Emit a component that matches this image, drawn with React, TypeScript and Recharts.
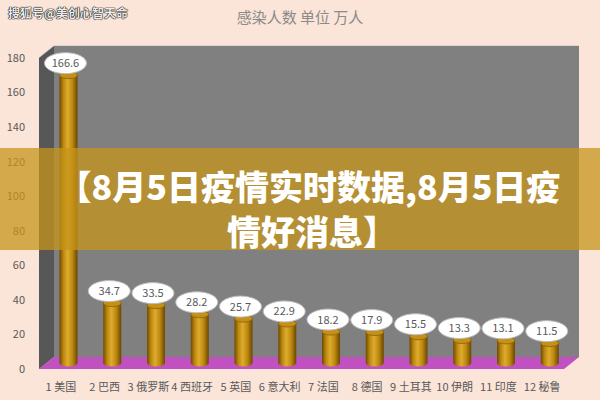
import React from 'react';
import {
  BarChart,
  Bar,
  XAxis,
  YAxis,
  CartesianGrid,
  LabelList,
  usePlotArea
} from 'recharts';

// 感染人数（万人），8月5日
const countries = ['1 美国', '2 巴西', '3 俄罗斯', '4 西班牙', '5 英国', '6 意大利', '7 法国', '8 德国', '9 土耳其', '10 伊朗', '11 印度', '12 秘鲁'];
const infected = [166.6, 34.7, 33.5, 28.2, 25.7, 22.9, 18.2, 17.9, 15.5, 13.3, 13.1, 11.5];
const yTicks = [0, 20, 40, 60, 80, 100, 120, 140, 160, 180];

const data = countries.map((name, i) => ({ name, value: infected[i] }));

const FONT = "'Noto Sans CJK SC', 'Noto Sans', sans-serif";
const DX = 15;   // depth of the 3d box
const DY = -12;

// left wall, back wall and floor of the fake 3d box
const Walls = () => {
  const area = usePlotArea();
  if (!area) return null;
  const { x, y, width, height } = area;
  const b = y + height;
  const r = x + width;
  return (
    <g>
      <polygon points={`${x},${y} ${x + DX},${y + DY} ${x + DX},${b + DY} ${x},${b}`} fill="#575757" />
      <rect x={x + DX} y={y + DY} width={width} height={height} fill="#808080" />
      <polygon points={`${x},${b} ${x + DX},${b + DY} ${r + DX},${b + DY} ${r},${b}`} fill="#c150c0" />
    </g>
  );
};

const gridLine = (p: any) => {
  const { x1, y1, x2, key } = p;
  return (
    <g key={key}>
      <line x1={x1} y1={y1} x2={x1 + DX} y2={y1 + DY} stroke="#d0d0d0" strokeWidth={1.5} />
      <line x1={x1 + DX} y1={y1 + DY} x2={x2 + DX} y2={y1 + DY} stroke="#d0d0d0" strokeWidth={1.5} />
    </g>
  );
};

const Cylinder = (p: any) => {
  const x = Number(p.x) + DX / 2;
  const w = Number(p.width);
  const top = Number(p.y) + DY / 2;
  const bottom = top + Number(p.height);
  const cx = x + w / 2;
  return (
    <g>
      <ellipse cx={cx} cy={bottom} rx={w / 2} ry={3.5} fill="url(#gold)" />
      <rect x={x} y={top} width={w} height={bottom - top} fill="url(#gold)" />
      <ellipse cx={cx} cy={top} rx={w / 2} ry={3.5} fill="#c4901a" stroke="#8c6204" strokeWidth={0.8} />
    </g>
  );
};

const Bubble = (p: any) => {
  const cx = Number(p.x) + Number(p.width) / 2 + DX / 2 - 3;
  const cy = Number(p.y) + DY / 2 - 12;
  return (
    <g>
      <ellipse cx={cx} cy={cy} rx={21} ry={10.5} fill="#ffffff" stroke="#bdbdbd" strokeWidth={1} />
      <text x={cx} y={cy} dy="0.36em" textAnchor="middle" fontSize={11} fill="#595959" fontFamily={FONT}>
        {p.value}
      </text>
    </g>
  );
};

export default function App() {
  return (
    <div style={{ position: 'absolute', left: 0, top: 0, width: 600, height: 400, background: '#fbe4d8', overflow: 'hidden', fontFamily: FONT }}>
      <div style={{ position: 'absolute', left: 0, top: 6, width: 600, textAlign: 'center', fontSize: 15, color: '#8a8a8a' }}>
        感染人数 单位 万人
      </div>
      <div style={{ position: 'absolute', left: 8, top: 4, fontSize: 12, fontWeight: 'bold', color: '#eeeeee', textShadow: '0 0 1px #000, 0 0 1px #000, 0 0 1px #000' }}>
        搜狐号@美创心智天命
      </div>
      <BarChart width={600} height={400} data={data} margin={{ top: 58, right: 36, left: 0, bottom: 1 }}>
        <defs>
          <linearGradient id="gold" x1="0" y1="0" x2="1" y2="0">
            <stop offset="0%" stopColor="#6e4a00" />
            <stop offset="22%" stopColor="#bc880f" />
            <stop offset="45%" stopColor="#deac2e" />
            <stop offset="72%" stopColor="#bc880f" />
            <stop offset="100%" stopColor="#6a4600" />
          </linearGradient>
        </defs>
        <Walls />
        <CartesianGrid vertical={false} horizontal={gridLine} />
        <XAxis
          dataKey="name"
          axisLine={false}
          tickLine={false}
          height={30}
          tickMargin={8}
          interval={0}
          tick={{ fontSize: 11, fill: '#595959', fontFamily: FONT }}
        />
        <YAxis
          domain={[0, 180]}
          ticks={yTicks}
          width={39}
          axisLine={false}
          tickLine={false}
          tickMargin={8}
          tick={{ fontSize: 11, fill: '#595959', fontFamily: FONT }}
        />
        <Bar dataKey="value" barSize={18} shape={Cylinder} isAnimationActive={false}>
          <LabelList dataKey="value" content={Bubble} />
        </Bar>
      </BarChart>
      <div style={{ position: 'absolute', left: 0, top: 148, width: 600, height: 102, background: 'rgba(198, 148, 26, 0.74)' }} />
      <div style={{ position: 'absolute', left: 0, top: 168, width: 618, textAlign: 'center', fontSize: 34, lineHeight: '36px', fontWeight: 900, color: '#fff', whiteSpace: 'nowrap' }}>
        【8月5日疫情实时数据,8月5日疫
      </div>
      <div style={{ position: 'absolute', left: 0, top: 213, width: 624, textAlign: 'center', fontSize: 34, lineHeight: '36px', fontWeight: 900, color: '#fff', whiteSpace: 'nowrap' }}>
        情好消息】
      </div>
    </div>
  );
}
